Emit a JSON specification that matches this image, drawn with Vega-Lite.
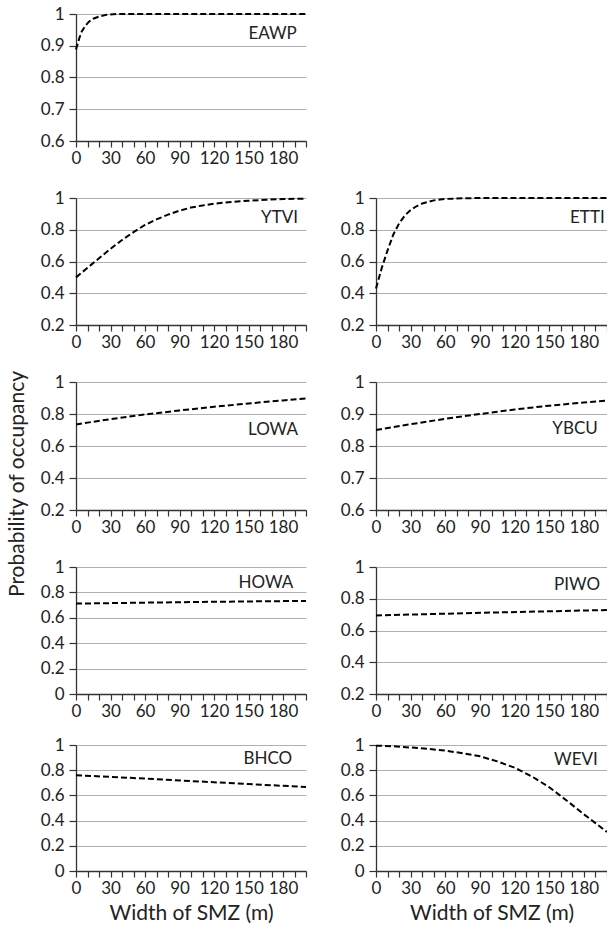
{
  "$schema": "https://vega.github.io/schema/vega-lite/v6.json",
  "padding": {"left": 7, "top": 5, "right": 0, "bottom": 2},
  "background": "white",
  "title": {"text": "Probability of occupancy", "orient": "left", "anchor": "middle", "fontSize": 21, "fontWeight": "normal", "font": "Lato", "color": "#222", "offset": 12, "dx": -20},
  "config": {
    "view": {"stroke": null},
    "font": "Lato",
    "line": {"strokeDash": [6, 3], "color": "#000", "strokeWidth": 2},
    "text": {"font": "Lato", "fontSize": 17, "align": "right", "baseline": "middle", "color": "#222"},
    "axis": {"labelFont": "Lato", "labelFontSize": 17, "labelColor": "#222", "domainColor": "#333", "domainWidth": 1.3, "tickColor": "#333", "tickWidth": 1.2, "tickSize": 6, "labelPadding": 3, "titleFont": "Lato", "titleFontSize": 21, "titleFontWeight": "normal", "titleColor": "#222", "titlePadding": 6, "gridColor": "#b0b0b0", "gridWidth": 1.2, "labelOverlap": false},
    "axisY": {"tickSize": 7, "labelPadding": 5, "grid": true}
  },
  "datasets": {
    "curves": [
      {"species": "EAWP", "w": 0, "p": 0.888}, {"species": "EAWP", "w": 3, "p": 0.925}, {"species": "EAWP", "w": 5, "p": 0.945}, {"species": "EAWP", "w": 8, "p": 0.962}, {"species": "EAWP", "w": 11, "p": 0.975}, {"species": "EAWP", "w": 15, "p": 0.985}, {"species": "EAWP", "w": 20, "p": 0.992}, {"species": "EAWP", "w": 27, "p": 0.998}, {"species": "EAWP", "w": 35, "p": 1.0}, {"species": "EAWP", "w": 200, "p": 1.0},
      {"species": "YTVI", "w": 0, "p": 0.5}, {"species": "YTVI", "w": 10, "p": 0.56}, {"species": "YTVI", "w": 20, "p": 0.62}, {"species": "YTVI", "w": 30, "p": 0.68}, {"species": "YTVI", "w": 40, "p": 0.735}, {"species": "YTVI", "w": 50, "p": 0.785}, {"species": "YTVI", "w": 60, "p": 0.83}, {"species": "YTVI", "w": 70, "p": 0.865}, {"species": "YTVI", "w": 80, "p": 0.895}, {"species": "YTVI", "w": 90, "p": 0.92}, {"species": "YTVI", "w": 100, "p": 0.94}, {"species": "YTVI", "w": 110, "p": 0.953}, {"species": "YTVI", "w": 120, "p": 0.964}, {"species": "YTVI", "w": 135, "p": 0.975}, {"species": "YTVI", "w": 150, "p": 0.983}, {"species": "YTVI", "w": 165, "p": 0.989}, {"species": "YTVI", "w": 180, "p": 0.993}, {"species": "YTVI", "w": 200, "p": 0.996},
      {"species": "ETTI", "w": 0, "p": 0.43}, {"species": "ETTI", "w": 5, "p": 0.56}, {"species": "ETTI", "w": 10, "p": 0.67}, {"species": "ETTI", "w": 15, "p": 0.77}, {"species": "ETTI", "w": 20, "p": 0.84}, {"species": "ETTI", "w": 25, "p": 0.89}, {"species": "ETTI", "w": 30, "p": 0.925}, {"species": "ETTI", "w": 35, "p": 0.948}, {"species": "ETTI", "w": 40, "p": 0.965}, {"species": "ETTI", "w": 50, "p": 0.985}, {"species": "ETTI", "w": 60, "p": 0.994}, {"species": "ETTI", "w": 75, "p": 0.998}, {"species": "ETTI", "w": 90, "p": 1.0}, {"species": "ETTI", "w": 200, "p": 1.0},
      {"species": "LOWA", "w": 0, "p": 0.735}, {"species": "LOWA", "w": 30, "p": 0.768}, {"species": "LOWA", "w": 60, "p": 0.797}, {"species": "LOWA", "w": 90, "p": 0.822}, {"species": "LOWA", "w": 120, "p": 0.845}, {"species": "LOWA", "w": 150, "p": 0.866}, {"species": "LOWA", "w": 180, "p": 0.885}, {"species": "LOWA", "w": 200, "p": 0.897},
      {"species": "YBCU", "w": 0, "p": 0.85}, {"species": "YBCU", "w": 30, "p": 0.868}, {"species": "YBCU", "w": 60, "p": 0.885}, {"species": "YBCU", "w": 90, "p": 0.9}, {"species": "YBCU", "w": 120, "p": 0.914}, {"species": "YBCU", "w": 150, "p": 0.926}, {"species": "YBCU", "w": 180, "p": 0.936}, {"species": "YBCU", "w": 200, "p": 0.942},
      {"species": "HOWA", "w": 0, "p": 0.712}, {"species": "HOWA", "w": 50, "p": 0.718}, {"species": "HOWA", "w": 100, "p": 0.724}, {"species": "HOWA", "w": 150, "p": 0.729}, {"species": "HOWA", "w": 200, "p": 0.733},
      {"species": "PIWO", "w": 0, "p": 0.695}, {"species": "PIWO", "w": 50, "p": 0.704}, {"species": "PIWO", "w": 100, "p": 0.713}, {"species": "PIWO", "w": 150, "p": 0.721}, {"species": "PIWO", "w": 200, "p": 0.729},
      {"species": "BHCO", "w": 0, "p": 0.76}, {"species": "BHCO", "w": 50, "p": 0.738}, {"species": "BHCO", "w": 100, "p": 0.714}, {"species": "BHCO", "w": 150, "p": 0.69}, {"species": "BHCO", "w": 200, "p": 0.667},
      {"species": "WEVI", "w": 0, "p": 0.995}, {"species": "WEVI", "w": 15, "p": 0.99}, {"species": "WEVI", "w": 30, "p": 0.98}, {"species": "WEVI", "w": 45, "p": 0.97}, {"species": "WEVI", "w": 60, "p": 0.955}, {"species": "WEVI", "w": 75, "p": 0.935}, {"species": "WEVI", "w": 90, "p": 0.91}, {"species": "WEVI", "w": 105, "p": 0.87}, {"species": "WEVI", "w": 120, "p": 0.82}, {"species": "WEVI", "w": 135, "p": 0.75}, {"species": "WEVI", "w": 150, "p": 0.665}, {"species": "WEVI", "w": 165, "p": 0.56}, {"species": "WEVI", "w": 180, "p": 0.45}, {"species": "WEVI", "w": 190, "p": 0.38}, {"species": "WEVI", "w": 200, "p": 0.31}
    ]
  },
  "vconcat": [
    {
      "vconcat": [
        {"hconcat": [
          {"width": 230, "height": 127, "layer": [
            {"data": {"name": "curves"}, "transform": [{"filter": "datum.species === 'EAWP'"}], "mark": "line", "encoding": {
              "x": {"field": "w", "type": "quantitative", "scale": {"domain": [0, 200], "nice": false}, "axis": {"values": [0,10,20,30,40,50,60,70,80,90,100,110,120,130,140,150,160,170,180,190,200], "tickCount": 50, "labelExpr": "datum.value % 30 === 0 && datum.value < 200 ? datum.label : ''", "grid": false, "title": null, "labelFlush": false}},
              "y": {"field": "p", "type": "quantitative", "scale": {"domain": [0.6, 1], "nice": false, "zero": false}, "axis": {"values": [0.6, 0.7, 0.8, 0.9, 1], "tickCount": 20, "format": ".1~f", "title": null}}}},
            {"data": {"values": [{"label": "EAWP"}]}, "mark": "text", "encoding": {"x": {"datum": 192}, "y": {"datum": 0.936}, "text": {"field": "label"}}}
          ]}
        ]},
        {"hconcat": [
          {"width": 230, "height": 127, "layer": [
            {"data": {"name": "curves"}, "transform": [{"filter": "datum.species === 'YTVI'"}], "mark": "line", "encoding": {
              "x": {"field": "w", "type": "quantitative", "scale": {"domain": [0, 200], "nice": false}, "axis": {"values": [0,10,20,30,40,50,60,70,80,90,100,110,120,130,140,150,160,170,180,190,200], "tickCount": 50, "labelExpr": "datum.value % 30 === 0 && datum.value < 200 ? datum.label : ''", "grid": false, "title": null, "labelFlush": false}},
              "y": {"field": "p", "type": "quantitative", "scale": {"domain": [0.2, 1], "nice": false, "zero": false}, "axis": {"values": [0.2, 0.4, 0.6, 0.8, 1], "tickCount": 20, "format": ".1~f", "title": null}}}},
            {"data": {"values": [{"label": "YTVI"}]}, "mark": "text", "encoding": {"x": {"datum": 193}, "y": {"datum": 0.874}, "text": {"field": "label"}}}
          ]},
          {"width": 231, "height": 127, "layer": [
            {"data": {"name": "curves"}, "transform": [{"filter": "datum.species === 'ETTI'"}], "mark": "line", "encoding": {
              "x": {"field": "w", "type": "quantitative", "scale": {"domain": [0, 200], "nice": false}, "axis": {"values": [0,10,20,30,40,50,60,70,80,90,100,110,120,130,140,150,160,170,180,190,200], "tickCount": 50, "labelExpr": "datum.value % 30 === 0 && datum.value < 200 ? datum.label : ''", "grid": false, "title": null, "labelFlush": false}},
              "y": {"field": "p", "type": "quantitative", "scale": {"domain": [0.2, 1], "nice": false, "zero": false}, "axis": {"values": [0.2, 0.4, 0.6, 0.8, 1], "tickCount": 20, "format": ".1~f", "title": null}}}},
            {"data": {"values": [{"label": "ETTI"}]}, "mark": "text", "encoding": {"x": {"datum": 198}, "y": {"datum": 0.874}, "text": {"field": "label"}}}
          ]}
        ], "spacing": 30},
        {"hconcat": [
          {"width": 230, "height": 128, "layer": [
            {"data": {"name": "curves"}, "transform": [{"filter": "datum.species === 'LOWA'"}], "mark": "line", "encoding": {
              "x": {"field": "w", "type": "quantitative", "scale": {"domain": [0, 200], "nice": false}, "axis": {"values": [0,10,20,30,40,50,60,70,80,90,100,110,120,130,140,150,160,170,180,190,200], "tickCount": 50, "labelExpr": "datum.value % 30 === 0 && datum.value < 200 ? datum.label : ''", "grid": false, "title": null, "labelFlush": false}},
              "y": {"field": "p", "type": "quantitative", "scale": {"domain": [0.2, 1], "nice": false, "zero": false}, "axis": {"values": [0.2, 0.4, 0.6, 0.8, 1], "tickCount": 20, "format": ".1~f", "title": null}}}},
            {"data": {"values": [{"label": "LOWA"}]}, "mark": "text", "encoding": {"x": {"datum": 193}, "y": {"datum": 0.7}, "text": {"field": "label"}}}
          ]},
          {"width": 231, "height": 128, "layer": [
            {"data": {"name": "curves"}, "transform": [{"filter": "datum.species === 'YBCU'"}], "mark": "line", "encoding": {
              "x": {"field": "w", "type": "quantitative", "scale": {"domain": [0, 200], "nice": false}, "axis": {"values": [0,10,20,30,40,50,60,70,80,90,100,110,120,130,140,150,160,170,180,190,200], "tickCount": 50, "labelExpr": "datum.value % 30 === 0 && datum.value < 200 ? datum.label : ''", "grid": false, "title": null, "labelFlush": false}},
              "y": {"field": "p", "type": "quantitative", "scale": {"domain": [0.6, 1], "nice": false, "zero": false}, "axis": {"values": [0.6, 0.7, 0.8, 0.9, 1], "tickCount": 20, "format": ".1~f", "title": null}}}},
            {"data": {"values": [{"label": "YBCU"}]}, "mark": "text", "encoding": {"x": {"datum": 192}, "y": {"datum": 0.852}, "text": {"field": "label"}}}
          ]}
        ], "spacing": 30},
        {"hconcat": [
          {"width": 230, "height": 127, "layer": [
            {"data": {"name": "curves"}, "transform": [{"filter": "datum.species === 'HOWA'"}], "mark": "line", "encoding": {
              "x": {"field": "w", "type": "quantitative", "scale": {"domain": [0, 200], "nice": false}, "axis": {"values": [0,10,20,30,40,50,60,70,80,90,100,110,120,130,140,150,160,170,180,190,200], "tickCount": 50, "labelExpr": "datum.value % 30 === 0 && datum.value < 200 ? datum.label : ''", "grid": false, "title": null, "labelFlush": false}},
              "y": {"field": "p", "type": "quantitative", "scale": {"domain": [0, 1], "nice": false}, "axis": {"values": [0, 0.2, 0.4, 0.6, 0.8, 1], "tickCount": 20, "format": ".1~f", "title": null}}}},
            {"data": {"values": [{"label": "HOWA"}]}, "mark": "text", "encoding": {"x": {"datum": 189}, "y": {"datum": 0.874}, "text": {"field": "label"}}}
          ]},
          {"width": 231, "height": 127, "layer": [
            {"data": {"name": "curves"}, "transform": [{"filter": "datum.species === 'PIWO'"}], "mark": "line", "encoding": {
              "x": {"field": "w", "type": "quantitative", "scale": {"domain": [0, 200], "nice": false}, "axis": {"values": [0,10,20,30,40,50,60,70,80,90,100,110,120,130,140,150,160,170,180,190,200], "tickCount": 50, "labelExpr": "datum.value % 30 === 0 && datum.value < 200 ? datum.label : ''", "grid": false, "title": null, "labelFlush": false}},
              "y": {"field": "p", "type": "quantitative", "scale": {"domain": [0.2, 1], "nice": false, "zero": false}, "axis": {"values": [0.2, 0.4, 0.6, 0.8, 1], "tickCount": 20, "format": ".1~f", "title": null}}}},
            {"data": {"values": [{"label": "PIWO"}]}, "mark": "text", "encoding": {"x": {"datum": 194}, "y": {"datum": 0.885}, "text": {"field": "label"}}}
          ]}
        ], "spacing": 30}
      ],
      "spacing": 23
    },
    {"hconcat": [
      {"width": 230, "height": 126, "layer": [
        {"data": {"name": "curves"}, "transform": [{"filter": "datum.species === 'BHCO'"}], "mark": "line", "encoding": {
          "x": {"field": "w", "type": "quantitative", "scale": {"domain": [0, 200], "nice": false}, "axis": {"values": [0,10,20,30,40,50,60,70,80,90,100,110,120,130,140,150,160,170,180,190,200], "tickCount": 50, "labelExpr": "datum.value % 30 === 0 && datum.value < 200 ? datum.label : ''", "grid": false, "title": "Width of SMZ (m)", "labelFlush": false}},
          "y": {"field": "p", "type": "quantitative", "scale": {"domain": [0, 1], "nice": false}, "axis": {"values": [0, 0.2, 0.4, 0.6, 0.8, 1], "tickCount": 20, "format": ".1~f", "title": null}}}},
        {"data": {"values": [{"label": "BHCO"}]}, "mark": "text", "encoding": {"x": {"datum": 188}, "y": {"datum": 0.886}, "text": {"field": "label"}}}
      ]},
      {"width": 231, "height": 126, "layer": [
        {"data": {"name": "curves"}, "transform": [{"filter": "datum.species === 'WEVI'"}], "mark": "line", "encoding": {
          "x": {"field": "w", "type": "quantitative", "scale": {"domain": [0, 200], "nice": false}, "axis": {"values": [0,10,20,30,40,50,60,70,80,90,100,110,120,130,140,150,160,170,180,190,200], "tickCount": 50, "labelExpr": "datum.value % 30 === 0 && datum.value < 200 ? datum.label : ''", "grid": false, "title": "Width of SMZ (m)", "labelFlush": false}},
          "y": {"field": "p", "type": "quantitative", "scale": {"domain": [0, 1], "nice": false}, "axis": {"values": [0, 0.2, 0.4, 0.6, 0.8, 1], "tickCount": 20, "format": ".1~f", "title": null}}}},
        {"data": {"values": [{"label": "WEVI"}]}, "mark": "text", "encoding": {"x": {"datum": 192}, "y": {"datum": 0.88}, "text": {"field": "label"}}}
      ]}
    ], "spacing": 30}
  ],
  "spacing": 17
}
